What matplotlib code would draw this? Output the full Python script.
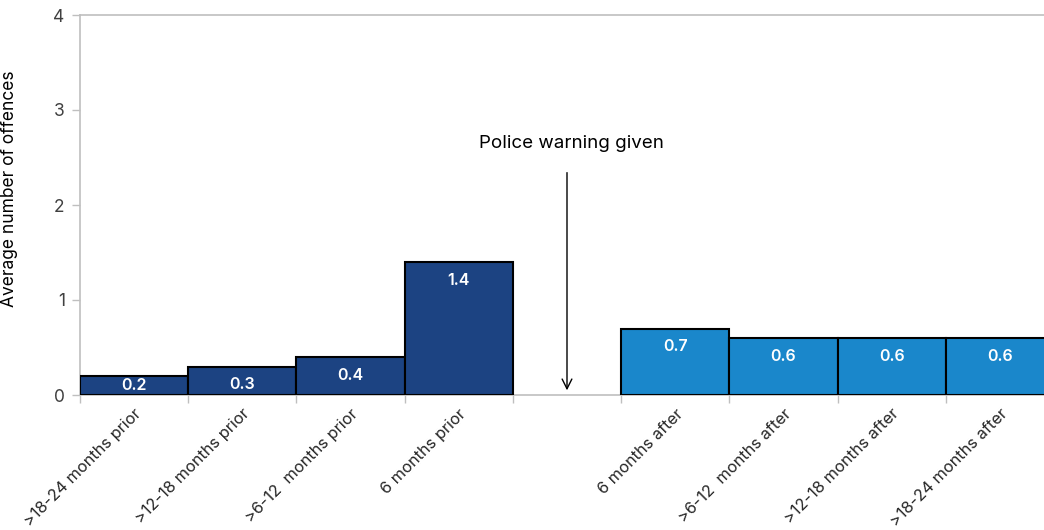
import matplotlib.pyplot as plt
import numpy as np

# data
prior_labels = ['>18-24 months prior', '>12-18 months prior', '>6-12  months prior', '6 months prior']
prior_values = [0.2, 0.3, 0.4, 1.4]
after_labels = ['6 months after', '>6-12  months after', '>12-18 months after', '>18-24 months after']
after_values = [0.7, 0.6, 0.6, 0.6]
y_ticks = [0, 1, 2, 3, 4]

plt.rcParams['font.family'] = ['Inter', 'DejaVu Sans']

fig = plt.figure(figsize=(10.44, 5.30), dpi=100)
ax = fig.add_axes([80 / 1044, 135 / 530, 974 / 1044, 380 / 530])

# prior bars in slots 0-3, empty slot 4, after bars in slots 5-8
x_prior = np.arange(len(prior_values))
x_after = np.arange(len(after_values)) + len(prior_values) + 1
bars1 = ax.bar(x_prior, prior_values, width=1.0, color='#1c4382', edgecolor='black', linewidth=1.5, zorder=3)
bars2 = ax.bar(x_after, after_values, width=1.0, color='#1a87cb', edgecolor='black', linewidth=1.5, zorder=3)

# value labels inside the top of each bar (kept above the axis for short bars)
for bars in (bars1, bars2):
    for b in bars:
        h = b.get_height()
        ax.text(b.get_x() + b.get_width() / 2, max(h - 0.19, 0.095), f'{h:.1f}',
                ha='center', va='center', color='white', fontsize=11.5,
                fontweight='semibold', zorder=4)

ax.set_xlim(-0.5, 8.5)
ax.set_ylim(0, 4)
ax.set_yticks(y_ticks)
ax.set_ylabel('Average number of offences', fontsize=12.5, color='black')
ax.yaxis.set_label_coords(-0.064, 0.542)

# tick marks at the slot boundaries, labels at the centres
ax.set_xticks(np.arange(-0.5, 9, 1.0))
ax.set_xticklabels([])
centres = list(x_prior) + list(x_after)
ax.set_xticks(centres, minor=True)
ax.set_xticklabels(prior_labels + after_labels, minor=True, rotation=45, ha='right',
                   rotation_mode='anchor', fontsize=11.8, color='#262626')
ax.tick_params(axis='x', which='minor', length=0, pad=8)
ax.tick_params(axis='x', which='major', length=6, color='#bfbfbf', width=1)
ax.tick_params(axis='y', length=6, color='#bfbfbf', width=1, labelsize=12.5, labelcolor='#404040', pad=5)

for side in ['left', 'top', 'bottom']:
    ax.spines[side].set_color('#bfbfbf')
    ax.spines[side].set_linewidth(1.2)
ax.spines['right'].set_visible(False)

# the warning marker in the empty slot
ax.annotate('', xy=(4, 0.02), xytext=(4, 2.37),
            arrowprops=dict(arrowstyle='->,head_length=0.7,head_width=0.35', lw=1, color='black'))
ax.text(4.04, 2.65, 'Police warning given', ha='center', va='center', fontsize=13.5, color='black')

fig.savefig('out.png', dpi=100)
